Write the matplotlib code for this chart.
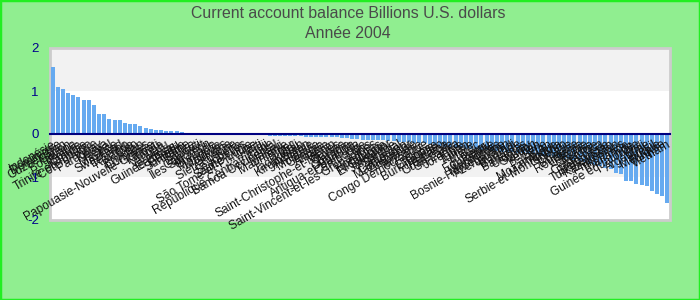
import matplotlib
matplotlib.use("Agg")
import matplotlib.pyplot as plt
from matplotlib.patches import Rectangle

plt.rcParams['font.family'] = ['Liberation Sans', 'DejaVu Sans']

countries = [
    "Indonésie", "Dominique", "Ouzbékistan", "Gabon", "Botswana", "Bolivie",
    "Namibie", "Trinité-et-Tobago", "Côte d'Ivoire", "Paraguay", "Kenya", "Népal",
    "Maurice", "Swaziland", "Lesotho", "Rwanda", "Togo", "Bhoutan",
    "Comores", "Papouasie-Nouvelle-Guinée", "Kiribati", "Tonga", "Vanuatu", "Érythrée",
    "Guinée-Bissau", "Gambie", "Suriname", "Belize", "Djibouti", "Cap-Vert",
    "Îles Salomon", "Grenade", "Mongolie", "Maldives", "Guyana", "Sierra Leone",
    "Libéria", "Seychelles", "Sainte-Lucie", "São Tomé-et-Principe", "Haïti", "Fidji",
    "République Centrafricaine", "Samoa Occidental", "Malawi", "Mauritanie", "Niger", "Mali",
    "Tadjikistan", "Kirghizistan", "Arménie", "Moldavie", "Géorgie", "Albanie",
    "Bénin", "Saint-Christophe-et-Niévès", "Guinée", "Zambie", "Ouganda", "Antigua-et-Barbuda",
    "Cambodge", "Laos", "Saint-Vincent-et-les Grenadines", "Honduras", "Nicaragua", "El Salvador",
    "Jamaïque", "Sénégal", "Cameroun", "Madagascar", "Zimbabwe", "Tanzanie",
    "Congo Démocratique", "Éthiopie", "Ghana", "Burkina Faso", "Panama", "Guatemala",
    "Sri Lanka", "Jordanie", "Liban", "Tunisie", "Maroc", "Équateur",
    "Pérou", "Colombie", "Macédoine", "Bosnie-Herzégovine", "Azerbaïdjan", "Burundi",
    "Barbade", "Bahamas", "Uruguay", "Soudan", "Yémen", "Syrie",
    "Pakistan", "Mozambique", "Angola", "Serbie-et-Monténégro", "Croatie", "Bulgarie",
    "Roumanie", "Lettonie", "Lituanie", "Estonie", "Costa Rica", "Biélorussie",
    "Turkménistan", "Kazakhstan", "Philippines", "Thaïlande", "Inde", "Guinée équatoriale",
    "Chili", "Argentine", "Brésil", "Mexique", "Turquie", "Vietnam",
]

balance = [
    1.56, 1.10, 1.05, 0.96, 0.91, 0.87, 0.79, 0.79, 0.68, 0.47,
    0.47, 0.36, 0.33, 0.33, 0.26, 0.24, 0.24, 0.19, 0.15, 0.12,
    0.10, 0.09, 0.08, 0.07, 0.06, 0.05, 0.03, 0.02, 0.02, 0.02,
    0.005, 0.004, 0.003, 0.002, 0.001, 0.0, -0.001, -0.002, -0.02, -0.03,
    -0.03, -0.03, -0.04, -0.04, -0.04, -0.05, -0.05, -0.05, -0.05, -0.06,
    -0.06, -0.06, -0.07, -0.07, -0.08, -0.08, -0.09, -0.10, -0.11, -0.12,
    -0.13, -0.13, -0.14, -0.14, -0.15, -0.16, -0.17, -0.18, -0.18, -0.19,
    -0.20, -0.21, -0.22, -0.24, -0.26, -0.28, -0.30, -0.31, -0.32, -0.33,
    -0.34, -0.35, -0.36, -0.37, -0.38, -0.39, -0.40, -0.41, -0.42, -0.43,
    -0.44, -0.45, -0.46, -0.47, -0.48, -0.50, -0.51, -0.53, -0.55, -0.57,
    -0.59, -0.61, -0.63, -0.66, -0.69, -0.72, -0.75, -0.78, -0.82, -0.91,
    -0.92, -1.09, -1.09, -1.16, -1.19, -1.20, -1.32, -1.40, -1.44, -1.60,
]

y_ticks = [-2, -1, 0, 1, 2]
title_line1 = "Current account balance Billions U.S. dollars"
title_line2 = "Année 2004"

assert len(countries) == len(balance)

fig = plt.figure(figsize=(7, 3), dpi=100, facecolor='#90ee90')
fig.patches.append(Rectangle((0, 0), 1, 1, transform=fig.transFigure,
                             fill=False, edgecolor='#22ee22', linewidth=2.5))

ax = fig.add_axes([50/700, 1-220/300, 620/700, 172/300])
ax.set_facecolor('white')

# spine position first (it resets tick objects)
for s in ['left', 'right', 'top']:
    ax.spines[s].set_visible(False)
ax.spines['bottom'].set_position(('data', 0))
ax.spines['bottom'].set_color('#000080')
ax.spines['bottom'].set_linewidth(1.5)
ax.spines['bottom'].set_zorder(3)

n = len(balance)
x = list(range(n))
ax.axhspan(1, 2, color='#f2f2f2', zorder=0, lw=0)
ax.axhspan(-1, 0, color='#f2f2f2', zorder=0, lw=0)
ax.bar(x, balance, width=0.78, color='#66aaf0', zorder=1)

ax.set_xlim(-0.5, n-0.5)
ax.set_ylim(-2, 2)
ax.set_yticks(y_ticks)
ax.set_yticklabels([str(v) for v in y_ticks], color='#00008b', fontsize=9.5)
ax.tick_params(axis='y', length=0, pad=8)

ax.set_xticks(x)
ax.set_xticklabels(countries, fontsize=8.6, color='#111111')
ax.tick_params(axis='x', length=0, pad=3)
for lab in ax.get_xticklabels():
    lab.set_rotation(30)
    lab.set_ha('right')
    lab.set_rotation_mode('anchor')

ax.add_patch(Rectangle((0, 0), 1, 1, transform=ax.transAxes, fill=False,
                       edgecolor='#cccccc', linewidth=2, clip_on=False, zorder=0.5))

fig.text(0.497, 0.955, title_line1, ha='center', va='center', fontsize=11.4, color='#4a4a4a')
fig.text(0.497, 0.888, title_line2, ha='center', va='center', fontsize=11.4, color='#4a4a4a')

fig.savefig('out.png', dpi=100, facecolor=fig.get_facecolor())
